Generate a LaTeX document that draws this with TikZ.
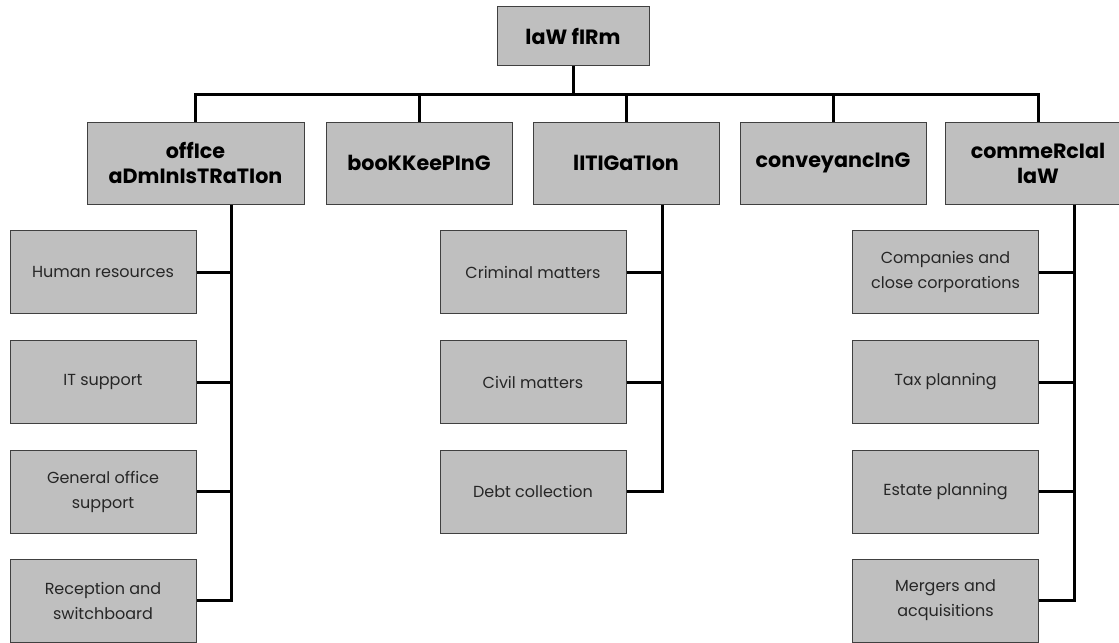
\documentclass[tikz,border=0pt]{standalone}
\usepackage{fontspec}
\setmainfont{Poppins}
\usetikzlibrary{positioning}

\begin{document}
\begin{tikzpicture}[x=0.75pt, y=-0.75pt,
    box/.style={draw=black!75, fill=gray!50, line width=0.75pt, inner sep=2pt, align=center},
    headbox/.style={box, minimum width=139.5pt, minimum height=61.5pt, font=\bfseries\fontsize{15.5}{18.75}\selectfont},
    subbox/.style={box, minimum width=139.5pt, minimum height=62.25pt, text=black!85, font=\fontsize{12}{18.75}\selectfont},
    link/.style={line width=2.25pt}]
  \useasboundingbox (0,0) rectangle (1119,642);

  % Top level
  \node[headbox, minimum width=114pt, minimum height=44.25pt] (firm) at (573,36.5) {laW fIRm};

  % Departments
  \node[headbox, minimum width=162.75pt] (office) at (195.5,163) {offIce\\aDmInIsTRaTIon};
  \node[headbox] (book) at (419,163) {booKKeePInG};
  \node[headbox] (lit) at (626,163) {lITIGaTIon};
  \node[headbox] (conv) at (833,163) {conveyancInG};
  \node[headbox] (comm) at (1038,163) {commeRcIal\\laW};

  % Office administration units
  \foreach \n/\y/\t in {hr/272/Human resources, it/382/IT support,
      gen/491.5/General office\\support, rec/600.5/Reception and\\switchboard} {
    \node[subbox] (\n) at (103,\y) {\t};
  }

  % Litigation units
  \foreach \n/\y/\t in {crim/272/Criminal matters, civil/382/Civil matters,
      debt/491.5/Debt collection} {
    \node[subbox] (\n) at (533,\y) {\t};
  }

  % Commercial law units
  \foreach \n/\y/\t in {comp/272/Companies and\\close corporations, tax/382/Tax planning,
      estate/491.5/Estate planning, merg/600.5/Mergers and\\acquisitions} {
    \node[subbox] (\n) at (945.5,\y) {\t};
  }

  % Firm to departments
  \coordinate (bus) at (573,94);
  \draw[link] (firm.south) -- (bus);
  \draw[link] (office.north) |- (bus) -| (comm.north);
  \foreach \d in {book,lit,conv} {
    \draw[link] (\d.north) -- (\d.north |- bus);
  }

  % Departments to units
  \foreach \dept/\last/\subs in {office/rec/{hr,it,gen}, lit/debt/{crim,civil}, comm/merg/{comp,tax,estate}} {
    \coordinate (\dept trunk) at ([xshift=27pt]\dept.south);
    \draw[link] (\dept trunk) |- (\last.east);
    \foreach \s in \subs {
      \draw[link] (\s.east) -- (\s.east -| \dept trunk);
    }
  }
\end{tikzpicture}
\end{document}
